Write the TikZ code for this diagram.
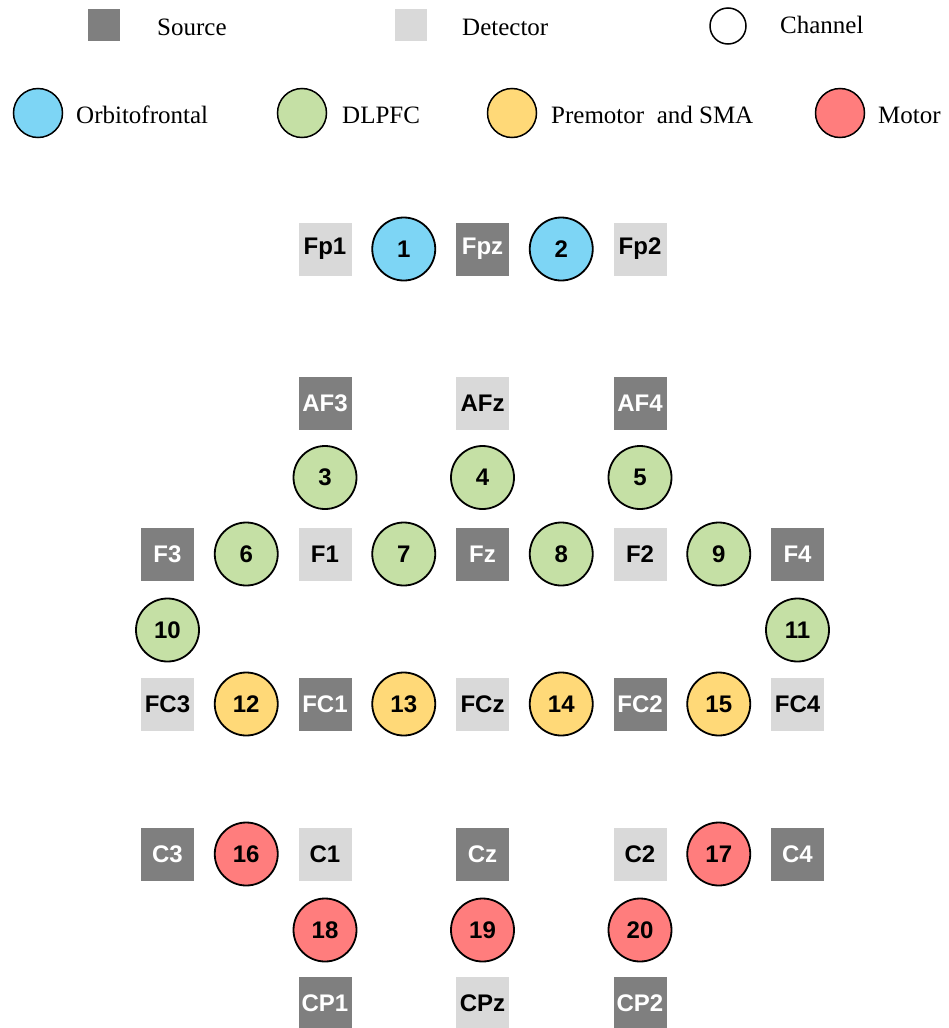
\documentclass[tikz,border=0pt]{standalone}
\usepackage{fontspec}
\setmainfont{Liberation Serif}
\newfontfamily\optfont{Liberation Sans}
\usepackage{tikz}
\definecolor{srcgray}{RGB}{127,127,127}
\definecolor{detgray}{RGB}{217,217,217}
\definecolor{ofcblue}{RGB}{125,213,245}
\definecolor{dlgreen}{RGB}{197,224,165}
\definecolor{smayellow}{RGB}{255,217,120}
\definecolor{motred}{RGB}{255,125,125}
\tikzset{
  every picture/.style={x=1pt,y=-1pt},
  optode/.style={minimum size=53pt,inner sep=0pt,
    font=\optfont\bfseries\fontsize{24}{24}\selectfont},
  src/.style={optode,fill=srcgray,text=white},
  det/.style={optode,fill=detgray,text=black},
  chan/.style={circle,draw=black,line width=1.8pt,minimum size=63pt,inner sep=0pt,
    font=\optfont\bfseries\fontsize{24}{24}\selectfont},
  legtxt/.style={anchor=base west,inner sep=0pt,font=\fontsize{25}{25}\selectfont},
  legcirc/.style={circle,draw=black,line width=1.5pt,minimum size=49pt,inner sep=0pt}
}

\begin{document}
\begin{tikzpicture}
    \useasboundingbox (0,0) rectangle (948,1028);
    % legend
    \node[fill=srcgray,minimum size=32pt,inner sep=0pt] (lsrc) at (104,25) {};
    \node[legtxt] (lsrctxt) at (157,35) {Source};
    \node[fill=detgray,minimum size=32pt,inner sep=0pt] (ldet) at (411,25) {};
    \node[legtxt] (ldettxt) at (462,35) {Detector};
    \node[circle,draw=black,line width=1.5pt,minimum size=36pt,inner sep=0pt] (lch) at (728,26) {};
    \node[legtxt] (lchtxt) at (780,33) {Channel};
    \node[legcirc,fill=ofcblue] (lofc) at (38,113) {};
    \node[legtxt] (lofctxt) at (76,123) {Orbitofrontal};
    \node[legcirc,fill=dlgreen] (ldl) at (302,113) {};
    \node[legtxt] (ldltxt) at (342,123) {DLPFC};
    \node[legcirc,fill=smayellow] (lsma) at (512,113) {};
    \node[legtxt] (lsmatxt) at (551,123) {Premotor~ and SMA};
    \node[legcirc,fill=motred] (lmot) at (840,113) {};
    \node[legtxt] (lmottxt) at (878,123) {Motor};

    % Fp row
    \node[det] (fp1) at (325,249) {Fp1};
    \node[chan,fill=ofcblue] (ch1) at (403.75,249) {1};
    \node[src] (fpz) at (482.5,249) {Fpz};
    \node[chan,fill=ofcblue] (ch2) at (561.25,249) {2};
    \node[det] (fp2) at (640,249) {Fp2};

    % AF row
    \node[src] (af3) at (325,403) {AF3};
    \node[det] (afz) at (482.5,403) {AFz};
    \node[src] (af4) at (640,403) {AF4};
    \node[chan,fill=dlgreen] (ch3) at (325,477.5) {3};
    \node[chan,fill=dlgreen] (ch4) at (482.5,477.5) {4};
    \node[chan,fill=dlgreen] (ch5) at (640,477.5) {5};

    % F row
    \node[src] (f3) at (167.5,554) {F3};
    \node[chan,fill=dlgreen] (ch6) at (246.25,554) {6};
    \node[det] (f1) at (325,554) {F1};
    \node[chan,fill=dlgreen] (ch7) at (403.75,554) {7};
    \node[src] (fz) at (482.5,554) {Fz};
    \node[chan,fill=dlgreen] (ch8) at (561.25,554) {8};
    \node[det] (f2) at (640,554) {F2};
    \node[chan,fill=dlgreen] (ch9) at (718.75,554) {9};
    \node[src] (f4) at (797.5,554) {F4};
    \node[chan,fill=dlgreen] (ch10) at (167.5,630) {10};
    \node[chan,fill=dlgreen] (ch11) at (797.5,630) {11};

    % FC row
    \node[det] (fc3) at (167.5,704) {FC3};
    \node[chan,fill=smayellow] (ch12) at (246.25,704) {12};
    \node[src] (fc1) at (325,704) {FC1};
    \node[chan,fill=smayellow] (ch13) at (403.75,704) {13};
    \node[det] (fcz) at (482.5,704) {FCz};
    \node[chan,fill=smayellow] (ch14) at (561.25,704) {14};
    \node[src] (fc2) at (640,704) {FC2};
    \node[chan,fill=smayellow] (ch15) at (718.75,704) {15};
    \node[det] (fc4) at (797.5,704) {FC4};

    % C row
    \node[src] (c3) at (167.5,854) {C3};
    \node[chan,fill=motred] (ch16) at (246.25,854) {16};
    \node[det] (c1) at (325,854) {C1};
    \node[src] (cz) at (482.5,854) {Cz};
    \node[det] (c2) at (640,854) {C2};
    \node[chan,fill=motred] (ch17) at (718.75,854) {17};
    \node[src] (c4) at (797.5,854) {C4};
    \node[chan,fill=motred] (ch18) at (325,930) {18};
    \node[chan,fill=motred] (ch19) at (482.5,930) {19};
    \node[chan,fill=motred] (ch20) at (640,930) {20};

    % CP row
    \node[src] (cp1) at (325,1003.5) {CP1};
    \node[det] (cpz) at (482.5,1003.5) {CPz};
    \node[src] (cp2) at (640,1003.5) {CP2};
\end{tikzpicture}
\end{document}
